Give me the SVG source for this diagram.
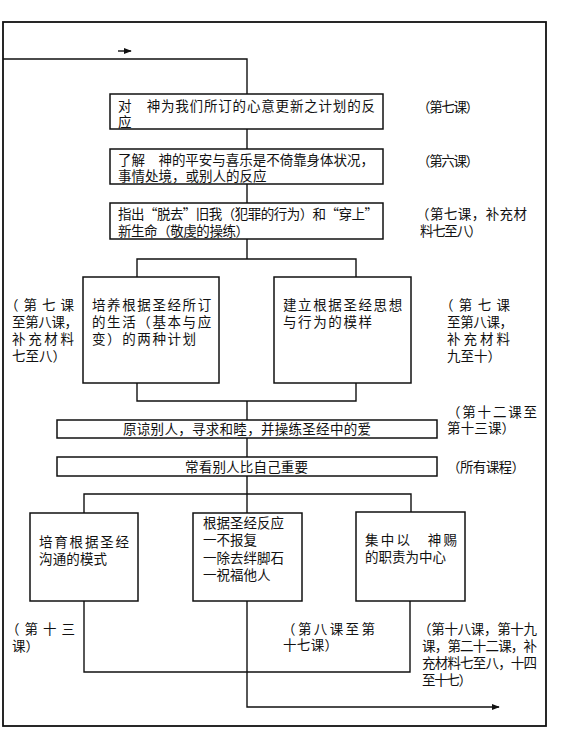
<svg xmlns="http://www.w3.org/2000/svg" width="585" height="753" viewBox="0 0 585 753">
<defs>
<style>
text{font-family:"Noto Sans CJK SC","Noto Sans CJK TC",sans-serif;font-size:13.5px;fill:#111}
.box{fill:#fff;stroke:#111;stroke-width:1.5}
.ln{fill:none;stroke:#111;stroke-width:1.4}
.frame{fill:none;stroke:#111;stroke-width:1.8}
.sp{letter-spacing:1.6px}
</style>
<marker id="ah" viewBox="0 0 10 10" refX="9" refY="5" markerWidth="8" markerHeight="8" markerUnits="userSpaceOnUse" orient="auto">
<path d="M0,1 L10,5 L0,9 Z" fill="#111"/>
</marker>
</defs>
<rect width="585" height="753" fill="#fff"/>
<rect class="frame" x="3" y="22" width="543" height="704"/>

<g id="connectors">
<polyline class="ln" points="3,59 247,59 247,94"/>
<line class="ln" x1="118" y1="51" x2="131" y2="51" marker-end="url(#ah)"/>
<line class="ln" x1="247" y1="129" x2="247" y2="149"/>
<line class="ln" x1="247" y1="184" x2="247" y2="203"/>
<line class="ln" x1="247" y1="239" x2="247" y2="259"/>
<polyline class="ln" points="137,277 137,259 356,259 356,277"/>
<polyline class="ln" points="137,383 137,401 356,401 356,383"/>
<line class="ln" x1="247" y1="401" x2="247" y2="420"/>
<line class="ln" x1="247" y1="438" x2="247" y2="457"/>
<line class="ln" x1="247" y1="476" x2="247" y2="513"/>
<polyline class="ln" points="84,513 84,494 411,494 411,513"/>
<polyline class="ln" points="84,601 84,672 410,672 410,601"/>
<polyline class="ln" points="247,601 247,707 499,707" marker-end="url(#ah)"/>
</g>

<g id="n1">
<rect class="box" x="110" y="94" width="273" height="35"/>
<text><tspan x="118" y="111" textLength="257" lengthAdjust="spacing">对　神为我们所订的心意更新之计划的反</tspan><tspan x="118" y="127">应</tspan></text>
</g>
<g id="n2">
<rect class="box" x="110" y="149" width="273" height="35"/>
<text><tspan x="118" y="165" textLength="256" lengthAdjust="spacing">了解　神的平安与喜乐是不倚靠身体状况，</tspan><tspan x="118" y="181">事情处境，或别人的反应</tspan></text>
</g>
<g id="n3">
<rect class="box" x="110" y="203" width="273" height="36"/>
<text><tspan x="118" y="219" textLength="260" lengthAdjust="spacing">指出“脱去”旧我（犯罪的行为）和“穿上”</tspan><tspan x="118" y="236" textLength="131" lengthAdjust="spacing">新生命（敬虔的操练）</tspan></text>
</g>
<g id="n4">
<rect class="box" x="83" y="277" width="136" height="106"/>
<text class="sp"><tspan x="92" y="310">培养根据圣经所订</tspan><tspan x="92" y="327">的生活（基本与应</tspan><tspan x="92" y="344">变）的两种计划</tspan></text>
</g>
<g id="n5">
<rect class="box" x="274" y="277" width="137" height="106"/>
<text class="sp"><tspan x="283" y="310">建立根据圣经思想</tspan><tspan x="283" y="327">与行为的模样</tspan></text>
</g>
<g id="n6">
<rect class="box" x="57" y="420" width="380" height="18"/>
<text x="123" y="434" textLength="248" lengthAdjust="spacing">原谅别人，寻求和睦，并操练圣经中的爱</text>
</g>
<g id="n7">
<rect class="box" x="57" y="457" width="380" height="19"/>
<text x="185" y="472" textLength="123" lengthAdjust="spacing">常看别人比自己重要</text>
</g>
<g id="n8">
<rect class="box" x="30" y="513" width="108" height="88"/>
<text><tspan x="39" y="547" textLength="90" lengthAdjust="spacing">培育根据圣经</tspan><tspan x="39" y="564" textLength="68" lengthAdjust="spacing">沟通的模式</tspan></text>
</g>
<g id="n9">
<rect class="box" x="193" y="513" width="109" height="88"/>
<text><tspan x="203" y="528">根据圣经反应</tspan><tspan x="203" y="545">一不报复</tspan><tspan x="203" y="563">一除去绊脚石</tspan><tspan x="203" y="580">一祝福他人</tspan></text>
</g>
<g id="n10">
<rect class="box" x="356" y="512" width="109" height="89"/>
<text><tspan x="365" y="545" textLength="92" lengthAdjust="spacing">集中以　神赐</tspan><tspan x="365" y="562">的职责为中心</tspan></text>
</g>

<g id="labels">
<text x="417" y="112" textLength="62" lengthAdjust="spacing">（第七课）</text>
<text x="417" y="166" textLength="62" lengthAdjust="spacing">（第六课）</text>
<text><tspan x="416" y="219" textLength="111" lengthAdjust="spacing">（第七课，补充材</tspan><tspan x="420" y="236" textLength="62" lengthAdjust="spacing">料七至八）</tspan></text>

<text><tspan x="5" y="310" textLength="69" lengthAdjust="spacing">（第七课</tspan><tspan x="12" y="327" textLength="66" lengthAdjust="spacing">至第八课，</tspan><tspan x="12" y="344" textLength="62" lengthAdjust="spacing">补充材料</tspan><tspan x="12" y="361" textLength="54" lengthAdjust="spacing">七至八）</tspan></text>

<text><tspan x="440" y="310" textLength="70" lengthAdjust="spacing">（第七课</tspan><tspan x="447" y="327" textLength="66" lengthAdjust="spacing">至第八课，</tspan><tspan x="447" y="344" textLength="63" lengthAdjust="spacing">补充材料</tspan><tspan x="447" y="361" textLength="54" lengthAdjust="spacing">九至十）</tspan></text>

<text><tspan x="447" y="417" textLength="90" lengthAdjust="spacing">（第十二课至</tspan><tspan x="447" y="433" textLength="68" lengthAdjust="spacing">第十三课）</tspan></text>
<text x="447" y="472" textLength="78" lengthAdjust="spacing">（所有课程）</text>

<text><tspan x="6" y="634" textLength="69" lengthAdjust="spacing">（第十三</tspan><tspan x="12" y="651">课）</tspan></text>
<text><tspan x="282" y="634" textLength="93" lengthAdjust="spacing">（第八课至第</tspan><tspan x="283" y="650" textLength="55" lengthAdjust="spacing">十七课）</tspan></text>
<text><tspan x="418" y="634" textLength="119" lengthAdjust="spacing">（第十八课，第十九</tspan><tspan x="422" y="651" textLength="115" lengthAdjust="spacing">课，第二十二课，补</tspan><tspan x="422" y="668" textLength="115" lengthAdjust="spacing">充材料七至八，十四</tspan><tspan x="422" y="685" textLength="50" lengthAdjust="spacing">至十七）</tspan></text>
</g>
</svg>
